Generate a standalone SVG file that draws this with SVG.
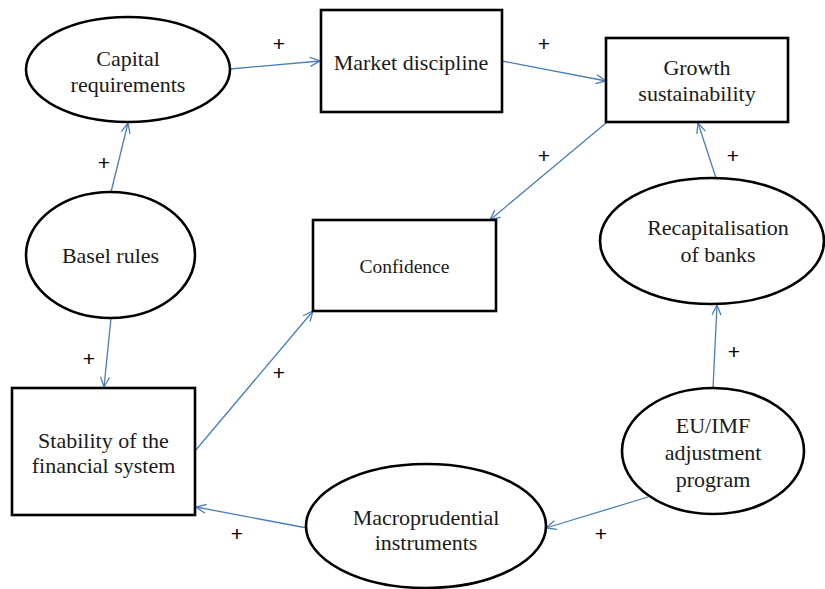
<svg xmlns="http://www.w3.org/2000/svg" width="825" height="589" viewBox="0 0 825 589">
<style>
.shape{fill:#fff;stroke:#000;stroke-width:2.6}
.lbl{font-family:"Liberation Serif","Times New Roman",serif;font-size:22px;fill:#1a1a1a;text-anchor:middle}
.small{font-size:19.5px}
.plus{font-family:"Liberation Sans",Arial,sans-serif;font-size:21px;fill:#000;text-anchor:middle}
.con{stroke:#4a7ebb;stroke-width:1.3;fill:none;marker-end:url(#arr)}
</style>
<defs>
<marker id="arr" viewBox="0 0 12 12" refX="11" refY="6" markerWidth="12" markerHeight="12" markerUnits="userSpaceOnUse" orient="auto">
<path d="M1,1.5 L11,6 L1,10.5" fill="none" stroke="#4a7ebb" stroke-width="1.3"/>
</marker>
</defs>
<rect width="825" height="589" fill="#fff"/>
<g id="connectors">
<line class="con" x1="230" y1="69" x2="320" y2="61"/>
<line class="con" x1="502" y1="61" x2="606" y2="81"/>
<line class="con" x1="606" y1="123" x2="490" y2="220"/>
<line class="con" x1="716" y1="178" x2="698" y2="123"/>
<line class="con" x1="111" y1="192" x2="128" y2="123"/>
<line class="con" x1="111" y1="318" x2="104" y2="387"/>
<line class="con" x1="195" y1="451" x2="313" y2="311"/>
<line class="con" x1="307" y1="528" x2="196" y2="507"/>
<line class="con" x1="648" y1="497" x2="546" y2="528"/>
<line class="con" x1="713" y1="388" x2="717" y2="305"/>
</g>
<g id="capital-requirements">
<ellipse class="shape" cx="128" cy="69.5" rx="102" ry="52.5"/>
<text class="lbl" x="128" y="66">Capital</text>
<text class="lbl" x="128" y="92">requirements</text>
</g>
<g id="market-discipline">
<rect class="shape" x="321" y="10" width="181" height="102"/>
<text class="lbl" x="411" y="70">Market discipline</text>
</g>
<g id="growth-sustainability">
<rect class="shape" x="606" y="38" width="182" height="84"/>
<text class="lbl" x="697" y="75">Growth</text>
<text class="lbl" x="697" y="101">sustainability</text>
</g>
<g id="basel-rules">
<ellipse class="shape" cx="110.5" cy="255" rx="84.5" ry="63"/>
<text class="lbl" x="110.5" y="263">Basel rules</text>
</g>
<g id="confidence">
<rect class="shape" x="313" y="220" width="183" height="91"/>
<text class="lbl small" x="404.5" y="273">Confidence</text>
</g>
<g id="recapitalisation">
<ellipse class="shape" cx="712" cy="241" rx="112" ry="63"/>
<text class="lbl" x="718" y="235">Recapitalisation</text>
<text class="lbl" x="718" y="262">of banks</text>
</g>
<g id="stability">
<rect class="shape" x="12" y="388" width="183" height="127"/>
<text class="lbl" x="103.5" y="448">Stability of the</text>
<text class="lbl" x="103.5" y="473">financial system</text>
</g>
<g id="eu-imf">
<ellipse class="shape" cx="713" cy="451" rx="91" ry="63"/>
<text class="lbl" x="713" y="433">EU/IMF</text>
<text class="lbl" x="713" y="460">adjustment</text>
<text class="lbl" x="713" y="487">program</text>
</g>
<g id="macroprudential">
<ellipse class="shape" cx="426" cy="526" rx="120" ry="62"/>
<text class="lbl" x="426" y="525">Macroprudential</text>
<text class="lbl" x="426" y="550">instruments</text>
</g>
<g id="signs">
<text class="plus" x="279" y="51">+</text>
<text class="plus" x="544" y="51">+</text>
<text class="plus" x="544" y="163">+</text>
<text class="plus" x="733" y="163">+</text>
<text class="plus" x="104" y="170">+</text>
<text class="plus" x="89" y="366">+</text>
<text class="plus" x="279" y="380">+</text>
<text class="plus" x="734" y="359">+</text>
<text class="plus" x="237" y="541">+</text>
<text class="plus" x="601" y="541">+</text>
</g>
</svg>
